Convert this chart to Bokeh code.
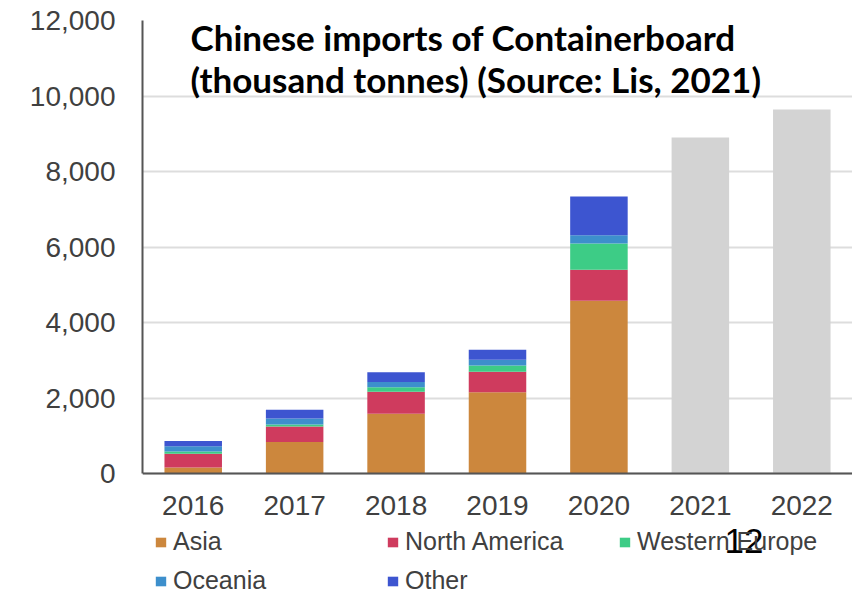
from bokeh.plotting import figure
from bokeh.models import (Legend, LegendItem, Label, Range1d, FixedTicker,
                          NumeralTickFormatter, ColumnDataSource)
from bokeh.embed import file_html
from bokeh.resources import INLINE

# ---- data (thousand tonnes) ----
years = ["2016", "2017", "2018", "2019", "2020", "2021", "2022"]
hist_years = ["2016", "2017", "2018", "2019", "2020"]
asia = [160, 837, 1581, 2150, 4574]
north_america = [365, 408, 587, 543, 825]
western_europe = [55, 55, 115, 168, 691]
oceania = [140, 160, 144, 152, 223]
other = [144, 230, 256, 267, 1027]
forecast_years = ["2021", "2022"]
forecast_total = [8900, 9645]

series = ["Asia", "North America", "Western Europe", "Oceania", "Other"]
colors = ["#CC873D", "#CF3B5E", "#3DCC86", "#3D8FCC", "#3D55D0"]
y_ticks = [0, 2000, 4000, 6000, 8000, 10000, 12000]
y_max = 12000

# layout (pixels)
top_px, left_px = 20, 142
frame_w, frame_h = 710, 574
zero_from_top = 453  # pixel distance from 12,000 line to the 0 line
y_min = -y_max * (frame_h - zero_from_top) / zero_from_top
bottom = frame_h + top_px  # page y of the frame bottom

src = ColumnDataSource(dict(year=hist_years, Asia=asia,
                            **{"North America": north_america,
                               "Western Europe": western_europe},
                            Oceania=oceania, Other=other))
fsrc = ColumnDataSource(dict(year=forecast_years, total=forecast_total))

p = figure(x_range=years, y_range=Range1d(y_min, y_max),
           frame_width=frame_w, frame_height=frame_h,
           output_backend="svg", toolbar_location=None,
           min_border_left=left_px, min_border_right=0,
           min_border_top=top_px, min_border_bottom=0)
p.outline_line_color = None
p.background_fill_color = "white"

renderers = p.vbar_stack(series, x="year", width=0.567, color=colors,
                         source=src, line_color=None)
p.vbar(x="year", top="total", width=0.567, source=fsrc,
       color="#D3D3D3", line_color=None)

# axes
p.yaxis.ticker = FixedTicker(ticks=y_ticks)
p.yaxis.formatter = NumeralTickFormatter(format="0,0")
p.yaxis.bounds = (0, y_max)
p.xaxis.fixed_location = 0
for ax in (p.xaxis[0], p.yaxis[0]):
    ax.major_tick_line_color = None
    ax.minor_tick_line_color = None
    ax.axis_line_color = "#555555"
    ax.axis_line_width = 2
    ax.major_label_text_font = "Liberation Sans"
    ax.major_label_text_font_size = "28px"
    ax.major_label_text_color = "#404040"
p.yaxis.major_label_standoff = 21
p.xaxis.major_label_standoff = 16
p.xgrid.grid_line_color = None
p.ygrid.grid_line_color = "#DDDDDD"
p.ygrid.grid_line_width = 2

# legend
items = [LegendItem(label=s, renderers=[r]) for s, r in zip(series, renderers)]
legend = Legend(items=items, orientation="horizontal", ncols=3,
                location=(12, bottom - 595), padding=0, margin=0, spacing=10,
                glyph_width=13, glyph_height=12, label_standoff=6,
                label_width=203, label_height=14,
                label_text_font="Liberation Sans", label_text_font_size="25px",
                label_text_color="#404040", background_fill_alpha=0,
                border_line_color=None)
p.add_layout(legend, "center")

# title lines
for txt, yy in [("Chinese imports of Containerboard", bottom - 36),
                ("(thousand tonnes) (Source:  Lis, 2021)", bottom - 78)]:
    p.add_layout(Label(x=48, y=yy, x_units="screen", y_units="screen",
                       text=txt, text_font="Lato", text_font_style="bold",
                       text_font_size="35px", text_color="black",
                       text_baseline="middle"))

# slide number
p.add_layout(Label(x=582, y=bottom - 540, x_units="screen",
                   y_units="screen", text="12", text_font="Liberation Sans",
                   text_font_size="35px", text_color="black",
                   text_baseline="middle"))

open("out.html", "w").write(file_html(p, INLINE))
